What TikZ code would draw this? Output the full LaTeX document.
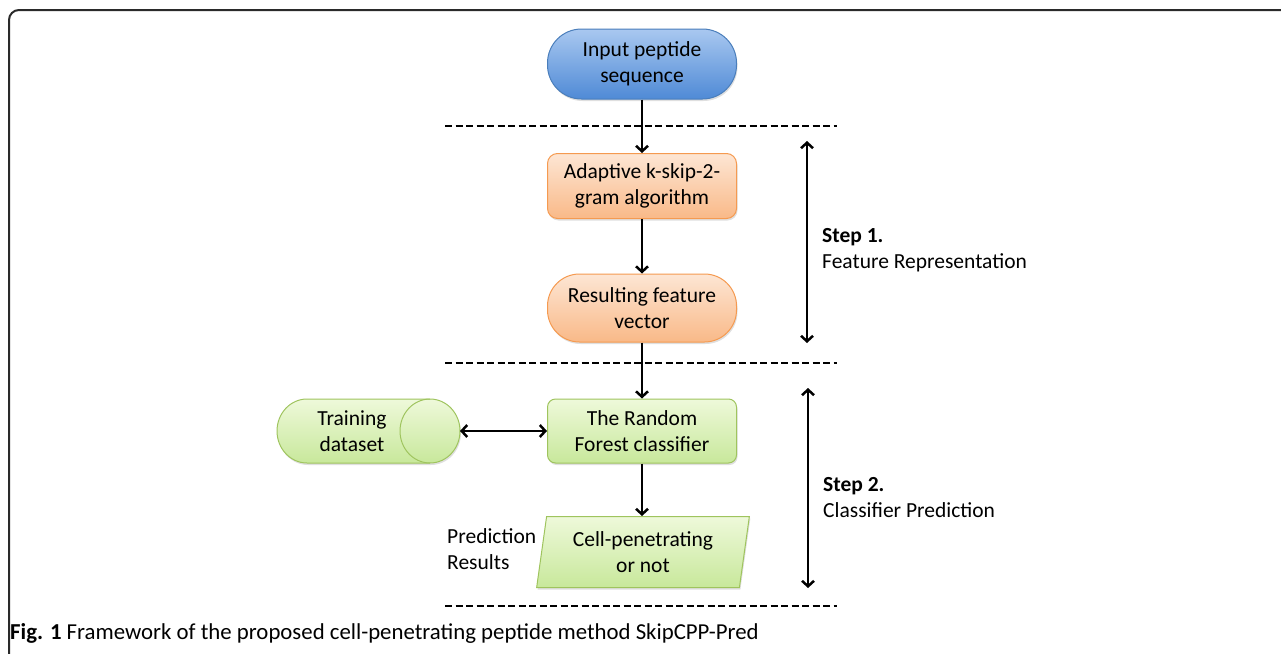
\documentclass[tikz,border=0pt]{standalone}
\usepackage{fontspec}
\setmainfont{Carlito}
\usetikzlibrary{shapes.geometric,arrows.meta,shadows}
\definecolor{bluedraw}{HTML}{4A7EBB}
\definecolor{bluetop}{HTML}{A9C8F0}
\definecolor{bluebot}{HTML}{4F8AD6}
\definecolor{ordraw}{HTML}{F59A50}
\definecolor{ortop}{HTML}{FDE6D4}
\definecolor{orbot}{HTML}{F9B988}
\definecolor{grdraw}{HTML}{9FC45E}
\definecolor{grtop}{HTML}{EEF9DA}
\definecolor{grbot}{HTML}{C8E89B}
\definecolor{framec}{HTML}{2A2A2A}
\begin{document}
\begin{tikzpicture}[x=1pt,y=-1pt,
  txt/.style={align=center, font=\fontsize{21.5}{26}\selectfont, inner sep=0pt},
  shade/.style={drop shadow={opacity=0.25, shadow xshift=1pt, shadow yshift=-2pt}},
  shbox/.style={txt, line width=1pt, minimum width=189pt, shade},
  bluebox/.style={shbox, draw=bluedraw, top color=bluetop, bottom color=bluebot},
  orbox/.style={shbox, draw=ordraw, top color=ortop, bottom color=orbot},
  grbox/.style={shbox, draw=grdraw, top color=grtop, bottom color=grbot},
  cylpath/.style={draw=grdraw, line width=1pt, top color=grtop, bottom color=grbot, shade},
  flow/.style={line width=2.5pt, -{Straight Barb[length=5.5pt,width=12pt]}},
  dbl/.style={line width=2.5pt, {Straight Barb[length=5.5pt,width=12pt]}-{Straight Barb[length=5.5pt,width=12pt]}},
  dashline/.style={line width=2.4pt, dash pattern=on 7pt off 3.5pt},
]
\useasboundingbox (0,0) rectangle (1281,653);
% frame
\draw[framec, line width=2pt, rounded corners=10pt] (9,670) -- (9,10) -- (1300,10);

% nodes
\node[bluebox, minimum height=70pt, rounded corners=34pt] (input) at (642,64) {Input peptide\\sequence};
\node[orbox, minimum height=65pt, rounded corners=10pt] (adapt) at (642,186) {Adaptive k-skip-2-\\gram algorithm};
\node[orbox, minimum height=68pt, rounded corners=32pt] (result) at (642,308) {Resulting feature\\vector};
\node[grbox, minimum height=64pt, rounded corners=8pt] (rf) at (642,431) {The Random\\Forest classifier};

% training dataset (horizontal cylinder)
\path[cylpath] (307,399) -- (430,399)
  arc[start angle=90, end angle=-90, x radius=30pt, y radius=32pt]
  -- (307,463)
  arc[start angle=270, end angle=90, x radius=30pt, y radius=32pt] -- cycle;
\draw[grdraw, line width=1pt] (430,399) arc[start angle=90, end angle=270, x radius=30pt, y radius=32pt];
\coordinate (train) at (460,431);
\node[txt] (traintxt) at (352,431) {Training\\dataset};

\node[grbox, trapezium, trapezium stretches=true, trapezium left angle=80, trapezium right angle=100,
      minimum width=213pt, minimum height=71pt] (out) at (643,552) {Cell-penetrating\\or not};
\node[txt, align=left, anchor=west] (predres) at (447,549) {Prediction\\Results};

% dashed separators
\coordinate (d1l) at (445,126); \coordinate (d1r) at (837,126);
\coordinate (d2l) at (445,363); \coordinate (d2r) at (837,363);
\coordinate (d3l) at (445,606); \coordinate (d3r) at (837,606);
\draw[dashline] (d1l) -- (d1r);
\draw[dashline] (d2l) -- (d2r);
\draw[dashline] (d3l) -- (d3r);

% flow arrows
\draw[flow] (input) -- (adapt);
\draw[flow] (adapt) -- (result);
\draw[flow] (result) -- (rf);
\draw[flow] (rf.south) -- (rf.south |- out.north);
\draw[dbl] (train) -- (rf);

% step arrows
\coordinate (s1t) at (807,141); \coordinate (s1b) at (807,343);
\coordinate (s2t) at (808,388); \coordinate (s2b) at (808,588);
\draw[dbl] (s1t) -- (s1b);
\draw[dbl] (s2t) -- (s2b);
\node[txt, align=left, anchor=west] (step1) at (822,250) {\textbf{Step 1.}\\Feature Representation};
\node[txt, align=left, anchor=west] (step2) at (823,498) {\textbf{Step 2.}\\Classifier Prediction};

% caption
\node[txt, anchor=west, font=\fontsize{22.8}{26}\selectfont] (cap) at (10,633) {\textbf{Fig. 1} Framework of the proposed cell-penetrating peptide method SkipCPP-Pred};
\end{tikzpicture}
\end{document}
